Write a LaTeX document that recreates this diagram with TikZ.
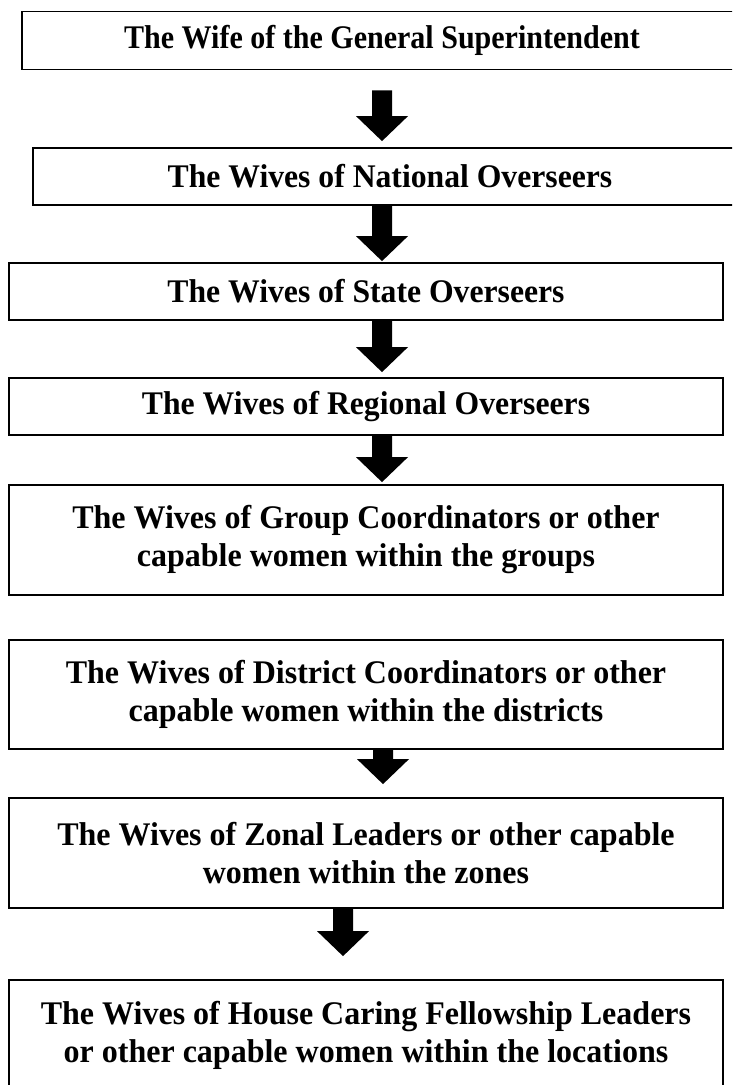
\documentclass[tikz,border=0pt]{standalone}
\usepackage{fontspec}
\setmainfont{Liberation Serif}[FakeStretch=0.97]
\newfontfamily\topfont{Liberation Serif}[FakeStretch=0.91]
\newfontfamily\midfont{Liberation Serif}[FakeStretch=0.96]
\usetikzlibrary{calc}
\begin{document}
\begin{tikzpicture}[x=1pt,y=-1pt,
  level/.style={draw=black, line width=1.8pt, inner sep=0pt, align=center,
    minimum width=714pt, font=\fontsize{33}{38}\selectfont\bfseries},
  single/.style={level, minimum height=57pt, font=\fontsize{33}{38}\midfont\bfseries},
  double/.style={level, minimum height=110pt},
  flow/.style={fill=black, draw=none,
    to path={let \p1=(\tikztostart), \p2=(\tikztotarget) in
      (\x1-10pt,\y1) -- (\x1+10pt,\y1) -- (\x1+10pt,\y2+25pt) -- (\x1+26pt,\y2+25pt)
      -- (\x1,\y2) -- (\x1-26pt,\y2+25pt) -- (\x1-10pt,\y2+25pt) -- cycle}}]
\clip (0,0) rectangle (732,1085);
\fill[white] (0,0) rectangle (732,1085);

% hierarchy levels
\node[level, minimum width=720pt, minimum height=58pt,
      font=\fontsize{33}{38}\topfont\bfseries] (b1) at (382,40.5)
  {The Wife of the General Superintendent};
\node[single] (b2) at (390,176.5) {The Wives of National Overseers};
\node[single] (b3) at (366,291.5) {The Wives of State Overseers};
\node[single] (b4) at (366,406.5) {The Wives of Regional Overseers};
\node[double] (b5) at (366,540)
  {The Wives of Group Coordinators or other\\capable women within the groups};
\node[double, minimum height=109pt] (b6) at (366,694.5)
  {The Wives of District Coordinators or other\\capable women within the districts};
\node[double] (b7) at (366,853)
  {The Wives of Zonal Leaders or other capable\\women within the zones};
\node[double] (b8) at (366,1035)
  {The Wives of House Caring Fellowship Leaders\\or other capable women within the locations};

% arrow axes
\coordinate (ax1) at (382,0);
\coordinate (ax2) at (383,0);
\coordinate (ax3) at (343,0);

% block arrows between levels
\path[flow] ($(b1.south -| ax1)+(0,20)$) to ($(b2.north -| ax1)+(0,-6)$);
\path[flow] (b2.south -| ax1) to ($(b3.north -| ax1)+(0,-1)$);
\path[flow] (b3.south -| ax1) to ($(b4.north -| ax1)+(0,-5)$);
\path[flow] (b4.south -| ax1) to ($(b5.north -| ax1)+(0,-2)$);
\path[flow] (b6.south -| ax2) to ($(b7.north -| ax2)+(0,-13)$);
\path[flow] (b7.south -| ax3) to ($(b8.north -| ax3)+(0,-23)$);
\end{tikzpicture}
\end{document}
